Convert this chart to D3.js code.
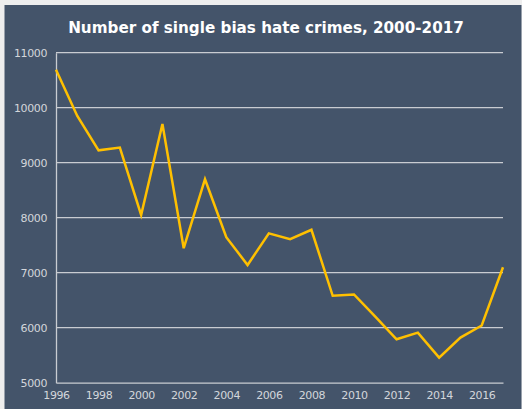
<!DOCTYPE html>
<html>
<head>
<meta charset="utf-8">
<script src="https://cdn.jsdelivr.net/npm/d3@7"></script>
<style>
  html, body { margin: 0; padding: 0; background: #eeeeee; }
  svg { display: block; }
</style>
</head>
<body>
<svg id="chart" width="522" height="409"></svg>
<script>
// Annual counts of single-bias hate crimes
const years = [1996, 1997, 1998, 1999, 2000, 2001, 2002, 2003, 2004, 2005, 2006,
               2007, 2008, 2009, 2010, 2011, 2012, 2013, 2014, 2015, 2016, 2017];
const crimes = [10690, 9850, 9225, 9275, 8050, 9705, 7445, 8700, 7645, 7140, 7715,
                7610, 7780, 6580, 6605, 6200, 5790, 5910, 5455, 5820, 6040, 7100];
const yTicks = [5000, 6000, 7000, 8000, 9000, 10000, 11000];
const xTicks = [1996, 1998, 2000, 2002, 2004, 2006, 2008, 2010, 2012, 2014, 2016];
const title = "Number of single bias hate crimes, 2000-2017";

const W = 522, H = 409;
const margin = { left: 56, right: 19, top: 52.7, bottom: 26.3 };

const svg = d3.select("#chart");

// panel background
svg.append("rect")
  .attr("x", 4.5).attr("y", 5)
  .attr("width", W - 5).attr("height", H - 5)
  .attr("fill", "#44546a");

const x = d3.scaleLinear()
  .domain([1996, 2017])
  .range([margin.left, W - margin.right]);

const y = d3.scaleLinear()
  .domain([5000, 11000])
  .range([H - margin.bottom, margin.top]);

const tickFont = "'DejaVu Sans', sans-serif";

// horizontal gridlines
svg.append("g")
  .selectAll("line")
  .data(yTicks.filter(d => d > 5000))
  .join("line")
  .attr("x1", x(1996)).attr("x2", x(2017))
  .attr("y1", d => y(d)).attr("y2", d => y(d))
  .attr("stroke", "#c9ccd2")
  .attr("stroke-width", 1.3);

function styleTicks(g) {
  g.select(".domain").attr("stroke", "#c9ccd2").attr("stroke-width", 1.3);
  g.selectAll("text")
    .attr("fill", "#d3d6db")
    .style("font-family", tickFont)
    .style("font-size", "11px")
    .style("letter-spacing", "-0.4px");
}

// y axis
svg.append("g")
  .attr("transform", `translate(${margin.left},0)`)
  .call(d3.axisLeft(y).tickValues(yTicks).tickSize(0).tickPadding(9).tickFormat(d3.format("d")))
  .call(styleTicks);

// x axis
svg.append("g")
  .attr("transform", `translate(0,${y(5000)})`)
  .call(d3.axisBottom(x).tickValues(xTicks).tickSize(0).tickPadding(9).tickFormat(d3.format("d")))
  .call(styleTicks);

// data line
const line = d3.line()
  .x((d, i) => x(years[i]))
  .y(d => y(d));

svg.append("path")
  .datum(crimes)
  .attr("d", line)
  .attr("fill", "none")
  .attr("stroke", "#ffc000")
  .attr("stroke-width", 2.5)
  .attr("stroke-linejoin", "miter");

// title
svg.append("text")
  .attr("x", 266)
  .attr("y", 33)
  .attr("text-anchor", "middle")
  .attr("fill", "#ffffff")
  .style("font-family", "'DejaVu Sans', sans-serif")
  .style("font-weight", "bold")
  .style("font-size", "15.2px")
  .text(title);
</script>
</body>
</html>
